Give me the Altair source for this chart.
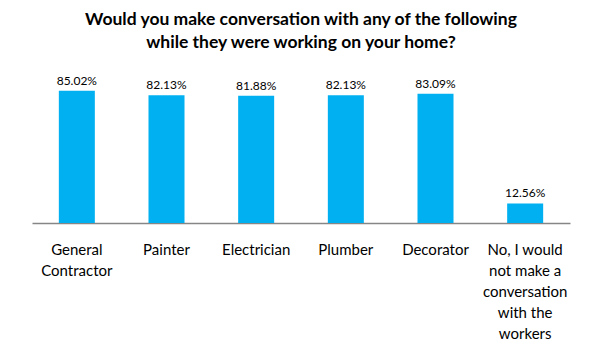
import altair as alt
import pandas as pd

categories = ["General|Contractor", "Painter", "Electrician", "Plumber", "Decorator",
              "No, I would|not make a|conversation|with the|workers"]
values = [85.02, 82.13, 81.88, 82.13, 83.09, 12.56]
labels = ["85.02%", "82.13%", "81.88%", "82.13%", "83.09%", "12.56%"]

df = pd.DataFrame({"cat": categories, "val": values, "lab": labels})

FONT = "Lato"

base = alt.Chart(df).encode(
    x=alt.X("cat:N", sort=None, title=None,
            scale=alt.Scale(paddingInner=0.6, paddingOuter=0.3),
            axis=alt.Axis(labelExpr="split(datum.label, '|')", labelAngle=0,
                          labelFontSize=15, labelFont=FONT, labelColor="#000000",
                          labelLineHeight=21, labelPadding=19, ticks=False,
                          domainColor="#868686", domainWidth=1.5, labelBaseline="top")),
    y=alt.Y("val:Q", title=None, scale=alt.Scale(domain=[0, 90]), axis=None),
)

bars = base.mark_bar(color="#00B0F0", size=36)
text = base.mark_text(dy=-10, fontSize=12, font=FONT, color="#000000").encode(text="lab:N")

chart = (bars + text).properties(
    width=538, height=140,
    title=alt.TitleParams(
        ["Would you make conversation with any of the following",
         "while they were working on your home?"],
        font=FONT, fontSize=17.5, fontWeight="bold", color="#000000",
        anchor="middle", lineHeight=23, offset=23),
    autosize=alt.AutoSizeParams(type="none"),
    padding={"left": 32, "top": 83, "right": 33, "bottom": 131},
).configure_view(stroke=None)

chart.save("out.html", embed_options={"renderer": "svg", "actions": False})
